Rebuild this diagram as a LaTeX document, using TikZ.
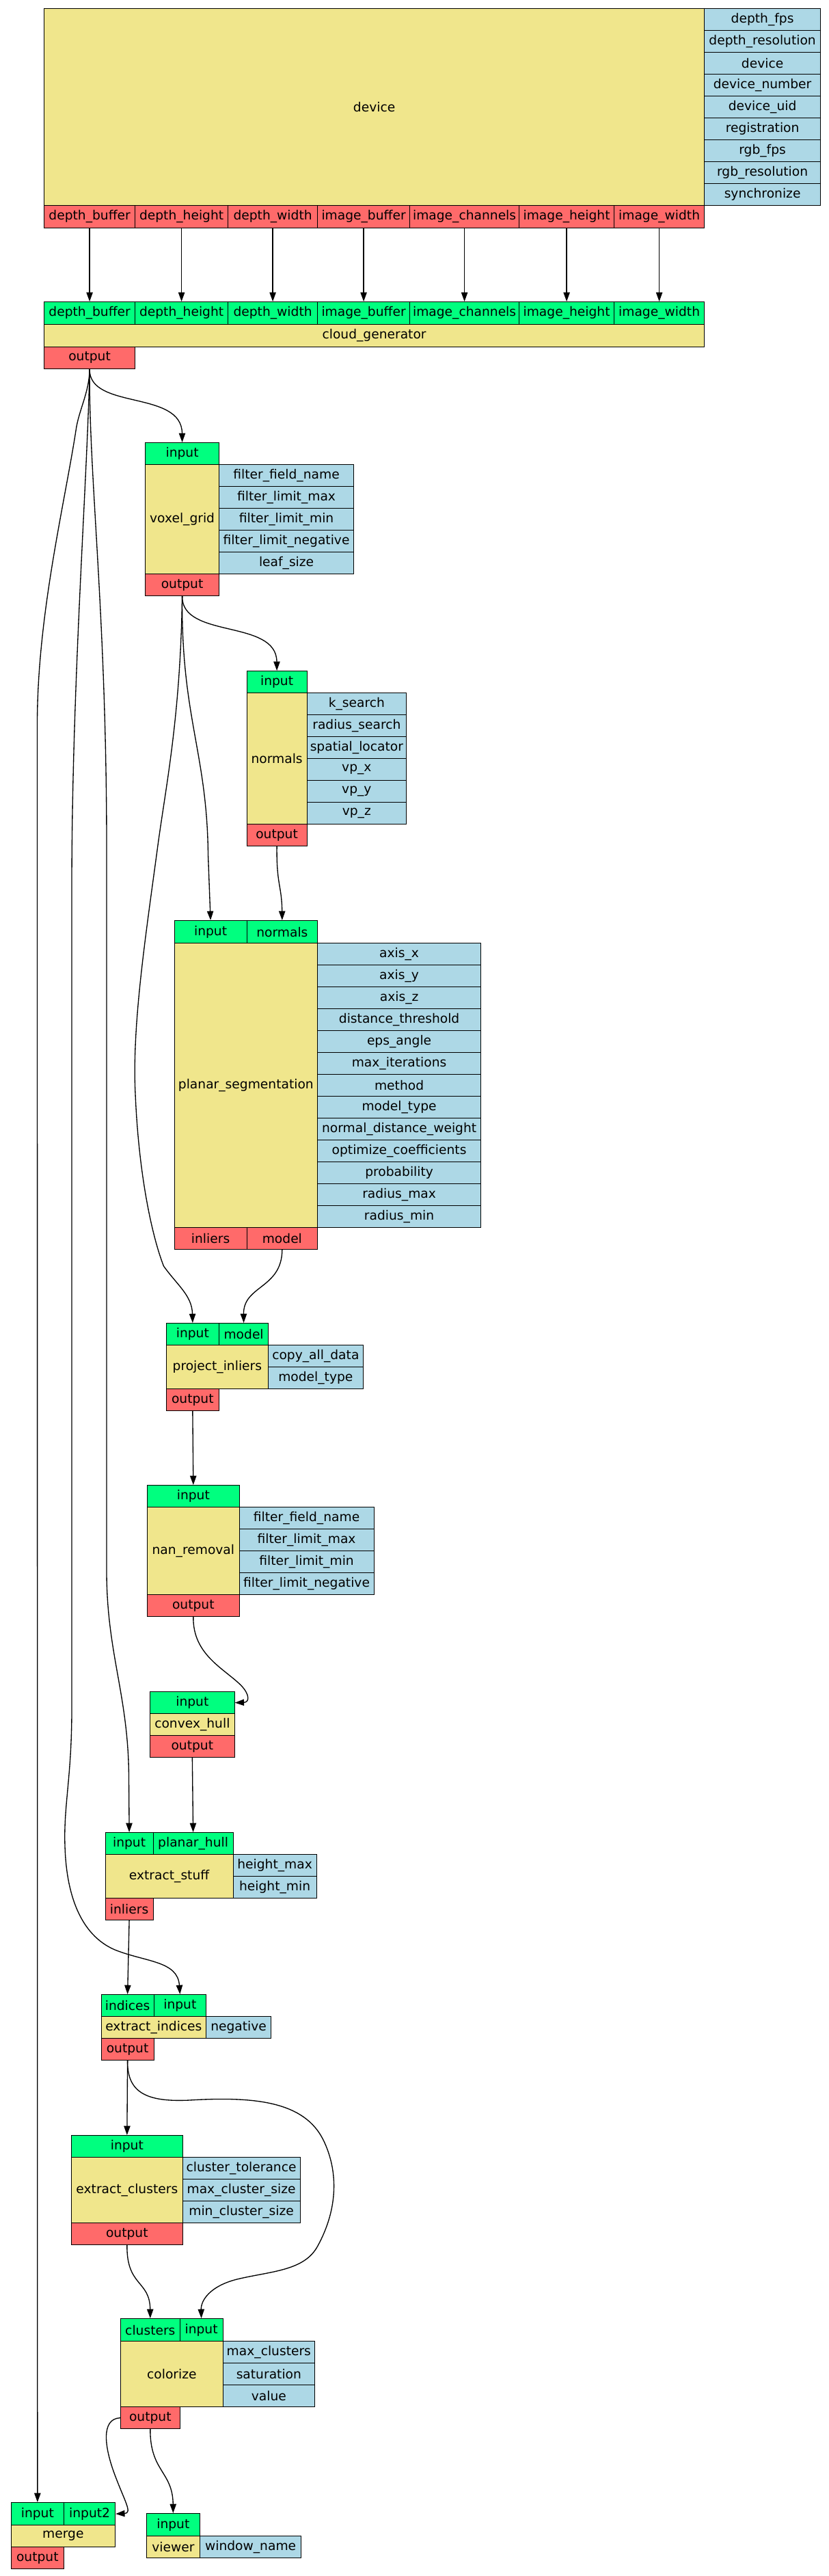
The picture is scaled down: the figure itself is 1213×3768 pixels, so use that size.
\documentclass[tikz,border=0pt]{standalone}
\usepackage{fontspec}
\setmainfont{DejaVu Sans}
\usetikzlibrary{arrows.meta}
\definecolor{khakiC}{HTML}{F0E68C}
\definecolor{greenC}{HTML}{00FF7F}
\definecolor{redC}{HTML}{FF6A6A}
\definecolor{blueC}{HTML}{ADD8E6}
\newcommand{\cellbox}[7]{%
  \pgfmathsetmacro{\cwidA}{(#4-#2)*0.75}%
  \pgfmathsetmacro{\cheiA}{(#5-#3)*0.75}%
  \node[cellb, fill=#6, minimum width=\cwidA pt, minimum height=\cheiA pt, anchor=north west] (#1) at (#2,#3) {#7};}
\newcommand{\paramcol}[6]{%
  \foreach \ptxt [count=\pi from 0] in {#6} {%
    \pgfmathsetmacro{\pya}{#4+\pi*#5}%
    \pgfmathsetmacro{\pyb}{#4+(\pi+1)*#5}%
    \cellbox{#1\pi}{#2}{\pya}{#3}{\pyb}{blueC}{\ptxt}%
  }}
\begin{document}
\begin{tikzpicture}[x=0.75pt,y=-0.75pt,
  cellb/.style={draw=black, line width=0.9pt, inner sep=0pt, text=black, font=\fontsize{14pt}{16pt}\selectfont},
  conn/.style={draw=black, line width=1pt, -{Triangle[length=10pt,width=7pt]}}]
\useasboundingbox (0,0) rectangle (1213,3768);
\fill[white] (0,0) rectangle (1213,3768);

% ---------- device ----------
\cellbox{dev}{64}{12}{1030}{300}{khakiC}{device}
\paramcol{devp}{1030}{1200}{12}{32}{depth\_fps,depth\_resolution,device,device\_number,device\_uid,registration,rgb\_fps,rgb\_resolution,synchronize}
\cellbox{devo1}{64}{300}{197}{333}{redC}{depth\_buffer}
\cellbox{devo2}{197}{300}{333}{333}{redC}{depth\_height}
\cellbox{devo3}{333}{300}{464}{333}{redC}{depth\_width}
\cellbox{devo4}{464}{300}{599}{333}{redC}{image\_buffer}
\cellbox{devo5}{599}{300}{759}{333}{redC}{image\_channels}
\cellbox{devo6}{759}{300}{898}{333}{redC}{image\_height}
\cellbox{devo7}{898}{300}{1030}{333}{redC}{image\_width}

% ---------- cloud_generator ----------
\cellbox{cgi1}{64}{441}{197}{474}{greenC}{depth\_buffer}
\cellbox{cgi2}{197}{441}{333}{474}{greenC}{depth\_height}
\cellbox{cgi3}{333}{441}{464}{474}{greenC}{depth\_width}
\cellbox{cgi4}{464}{441}{599}{474}{greenC}{image\_buffer}
\cellbox{cgi5}{599}{441}{759}{474}{greenC}{image\_channels}
\cellbox{cgi6}{759}{441}{898}{474}{greenC}{image\_height}
\cellbox{cgi7}{898}{441}{1030}{474}{greenC}{image\_width}
\cellbox{cg}{64}{474}{1030}{506.5}{khakiC}{cloud\_generator}
\cellbox{cgo}{64}{506.5}{197}{539}{redC}{output}

% ---------- voxel_grid ----------
\cellbox{vgi}{212}{647}{320}{679}{greenC}{input}
\cellbox{vg}{212}{679}{320}{839}{khakiC}{voxel\_grid}
\paramcol{vgp}{320}{517}{679}{32}{filter\_field\_name,filter\_limit\_max,filter\_limit\_min,filter\_limit\_negative,leaf\_size}
\cellbox{vgo}{212}{839}{320}{871}{redC}{output}

% ---------- normals ----------
\cellbox{nmi}{360.5}{981}{448.5}{1013}{greenC}{input}
\cellbox{nm}{360.5}{1013}{448.5}{1205}{khakiC}{normals}
\paramcol{nmp}{448.5}{594}{1013}{32}{k\_search,radius\_search,spatial\_locator,vp\_x,vp\_y,vp\_z}
\cellbox{nmo}{360.5}{1205}{448.5}{1237}{redC}{output}

% ---------- planar_segmentation ----------
\cellbox{psi1}{254.5}{1346}{360.5}{1379}{greenC}{input}
\cellbox{psi2}{360.5}{1346}{464}{1379}{greenC}{normals}
\cellbox{ps}{254.5}{1379}{464}{1795}{khakiC}{planar\_segmentation}
\paramcol{psp}{464}{703}{1379}{32}{axis\_x,axis\_y,axis\_z,distance\_threshold,eps\_angle,max\_iterations,method,model\_type,normal\_distance\_weight,optimize\_coefficients,probability,radius\_max,radius\_min}
\cellbox{pso1}{254.5}{1795}{360.5}{1827}{redC}{inliers}
\cellbox{pso2}{360.5}{1795}{464}{1827}{redC}{model}

% ---------- project_inliers ----------
\cellbox{pji1}{242.5}{1935}{320}{1967}{greenC}{input}
\cellbox{pji2}{320}{1935}{392}{1967}{greenC}{model}
\cellbox{pj}{242.5}{1967}{392}{2031}{khakiC}{project\_inliers}
\paramcol{pjp}{392}{530.5}{1967}{32}{copy\_all\_data,model\_type}
\cellbox{pjo}{242.5}{2031}{320}{2063}{redC}{output}

% ---------- nan_removal ----------
\cellbox{nri}{215}{2172}{349.5}{2204}{greenC}{input}
\cellbox{nr}{215}{2204}{349.5}{2332}{khakiC}{nan\_removal}
\paramcol{nrp}{349.5}{546.5}{2204}{32}{filter\_field\_name,filter\_limit\_max,filter\_limit\_min,filter\_limit\_negative}
\cellbox{nro}{215}{2332}{349.5}{2364}{redC}{output}

% ---------- convex_hull ----------
\cellbox{chi}{219}{2474}{342.5}{2506}{greenC}{input}
\cellbox{ch}{219}{2506}{342.5}{2538}{khakiC}{convex\_hull}
\cellbox{cho}{219}{2538}{342.5}{2570}{redC}{output}

% ---------- extract_stuff ----------
\cellbox{esi1}{153.5}{2680}{223.5}{2712}{greenC}{input}
\cellbox{esi2}{223.5}{2680}{340.5}{2712}{greenC}{planar\_hull}
\cellbox{es}{153.5}{2712}{340.5}{2776}{khakiC}{extract\_stuff}
\paramcol{esp}{340.5}{462.5}{2712}{32}{height\_max,height\_min}
\cellbox{eso}{153.5}{2776}{223.5}{2808}{redC}{inliers}

% ---------- extract_indices ----------
\cellbox{eii1}{147.5}{2917}{224.5}{2949}{greenC}{indices}
\cellbox{eii2}{224.5}{2917}{301}{2949}{greenC}{input}
\cellbox{ei}{147.5}{2949}{301}{2981}{khakiC}{extract\_indices}
\cellbox{eip}{301}{2949}{396}{2981}{blueC}{negative}
\cellbox{eio}{147.5}{2981}{224.5}{3013}{redC}{output}

% ---------- extract_clusters ----------
\cellbox{eci}{104}{3123}{266.5}{3155}{greenC}{input}
\cellbox{ec}{104}{3155}{266.5}{3251}{khakiC}{extract\_clusters}
\paramcol{ecp}{266.5}{438.5}{3155}{32}{cluster\_tolerance,max\_cluster\_size,min\_cluster\_size}
\cellbox{eco}{104}{3251}{266.5}{3283}{redC}{output}

% ---------- colorize ----------
\cellbox{coi1}{176}{3391}{262.5}{3424}{greenC}{clusters}
\cellbox{coi2}{262.5}{3391}{325.5}{3424}{greenC}{input}
\cellbox{co}{176}{3424}{325.5}{3520}{khakiC}{colorize}
\paramcol{cop}{325.5}{460}{3424}{32}{max\_clusters,saturation,value}
\cellbox{coo}{176}{3520}{262.5}{3552}{redC}{output}

% ---------- merge ----------
\cellbox{mgi1}{15.5}{3660}{93}{3693}{greenC}{input}
\cellbox{mgi2}{93}{3660}{168}{3693}{greenC}{input2}
\cellbox{mg}{15.5}{3693}{168}{3725}{khakiC}{merge}
\cellbox{mgo}{15.5}{3725}{93}{3757}{redC}{output}

% ---------- viewer ----------
\cellbox{vwi}{213.5}{3676}{292}{3709}{greenC}{input}
\cellbox{vw}{213.5}{3709}{292}{3741}{khakiC}{viewer}
\cellbox{vwp}{292}{3709}{440}{3741}{blueC}{window\_name}

% ================= connectors =================
\foreach \k in {1,...,7} {\draw[conn] (devo\k.south) -- (cgi\k.north);}

% cloud_generator -> voxel_grid
\draw[conn] (cgo.south) .. controls (130.5,600) and (266,570) .. (vgi.north);
% cloud_generator -> merge.input
\draw[conn] (cgo.south) .. controls (130.5,575) and (115,600) .. (111,630)
  .. controls (94,740) and (54.5,900) .. (54.5,1060) -- (mgi1.north);
% cloud_generator -> extract_indices.input
\draw[conn] (cgo.south) .. controls (128,700) and (105,1000) .. (105,1300)
  -- (105,2500) .. controls (105,2600) and (93,2640) .. (95,2700)
  .. controls (97,2770) and (117,2830) .. (168,2852)
  .. controls (213,2870) and (260,2868) .. (eii2.north);
% cloud_generator -> extract_stuff.input
\draw[conn] (cgo.south) .. controls (130,700) and (156,900) .. (156,1240)
  -- (156,2300) .. controls (156.5,2420) and (188,2480) .. (188.5,2600) -- (esi1.north);

% voxel_grid -> normals
\draw[conn] (vgo.south) .. controls (266,935) and (404.5,905) .. (nmi.north);
% voxel_grid -> planar_segmentation.input
\draw[conn] (vgo.south) .. controls (265,1050) and (303,1100) .. (304.5,1250) -- (psi1.north);
% voxel_grid -> project_inliers.input
\draw[conn] (vgo.south) .. controls (264,1050) and (242.5,1150) .. (230.5,1240)
  .. controls (213,1370) and (193,1500) .. (198,1600)
  .. controls (203,1720) and (223,1810) .. (239.5,1852)
  .. controls (259.5,1880) and (281,1895) .. (pji1.north);
% normals -> planar_segmentation.normals
\draw[conn] (nmo.south) .. controls (404.5,1295) and (412.3,1295) .. (psi2.north);
% planar_segmentation.model -> project_inliers.model
\draw[conn] (pso2.south) .. controls (412.3,1885) and (356,1880) .. (pji2.north);
% project_inliers -> nan_removal
\draw[conn] (pjo.south) -- (nri.north);
% nan_removal -> convex_hull
\draw[conn] (nro.south) .. controls (282,2420) and (327,2440) .. (352.5,2465)
  .. controls (366,2479) and (365,2490) .. (chi.east);
% convex_hull -> extract_stuff.planar_hull
\draw[conn] (cho.south) -- (esi2.north);
% extract_stuff.inliers -> extract_indices.indices
\draw[conn] (eso.south) -- (eii1.north);
% extract_indices -> extract_clusters
\draw[conn] (eio.south) -- (eci.north);
% extract_indices -> colorize.input
\draw[conn] (eio.south) .. controls (186,3060) and (213,3075) .. (277,3072)
  .. controls (376,3066) and (445.5,3075) .. (473,3130)
  .. controls (495,3175) and (495,3230) .. (465,3285)
  .. controls (445.5,3322) and (396,3322) .. (346.5,3334)
  .. controls (307,3344) and (294,3365) .. (coi2.north);
% extract_clusters -> colorize.clusters
\draw[conn] (eco.south) .. controls (185.2,3345) and (219.3,3335) .. (coi1.north);
% colorize -> merge.input2
\draw[conn] (coo.west) .. controls (147,3538) and (153,3580) .. (168,3620)
  .. controls (183,3660) and (194,3676) .. (mgi2.east);
% colorize -> viewer
\draw[conn] (coo.south) .. controls (219.3,3615) and (252.8,3615) .. (vwi.north);
\end{tikzpicture}
\end{document}
